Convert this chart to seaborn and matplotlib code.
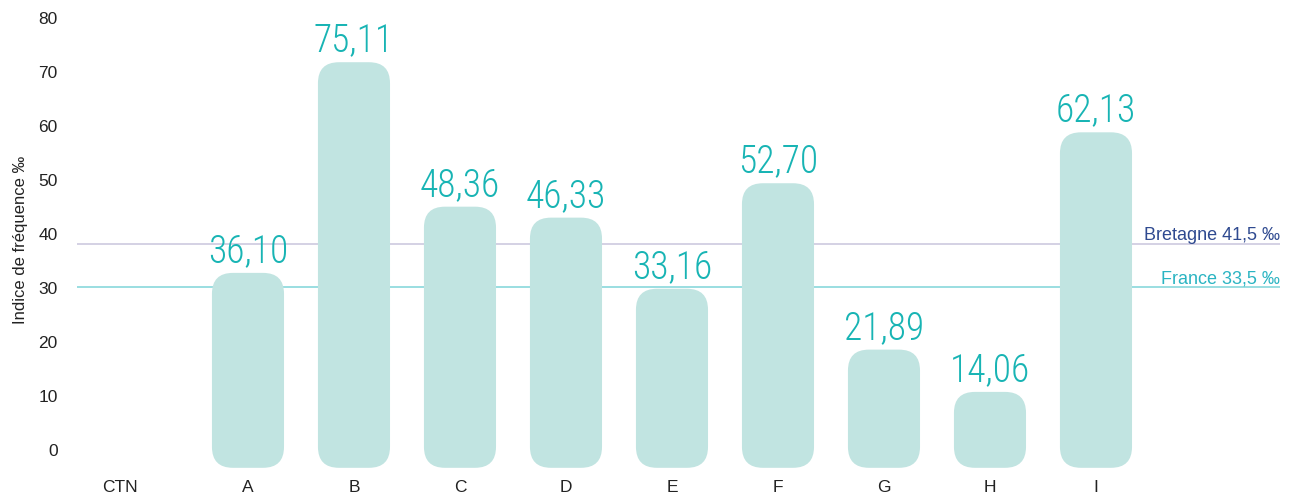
import numpy as np
import pandas as pd
import matplotlib
matplotlib.use("Agg")
import matplotlib.pyplot as plt
import seaborn as sns
from matplotlib.patches import FancyBboxPatch
from matplotlib.transforms import blended_transform_factory, ScaledTranslation

# data
categories = ["CTN", "A", "B", "C", "D", "E", "F", "G", "H", "I"]
values = [np.nan, 36.10, 75.11, 48.36, 46.33, 33.16, 52.70, 21.89, 14.06, 62.13]
labels = ["", "36,10", "75,11", "48,36", "46,33", "33,16", "52,70", "21,89", "14,06", "62,13"]
ref_names = ["Bretagne 41,5 ‰", "France 33,5 ‰"]
ref_values = [41.5, 33.5]

# bars and lines start a bit under the zero line in the original
offset = 3.3

bar_color = "#c1e4e1"
label_color = "#18b4b4"
ref_line_colors = ["#c9c5dd", "#7fd4d9"]
ref_text_colors = ["#2f4a90", "#2ab4c2"]

sns.set_theme(style="white")
plt.rcParams["font.family"] = ["Liberation Sans", "DejaVu Sans"]

df = pd.DataFrame({"cat": categories, "val": values})

fig = plt.figure(figsize=(12.97, 4.96), dpi=100)
ax = fig.add_axes([77 / 1297, 0.0492, (1280 - 77) / 1297, 0.9363])

sns.barplot(data=df, x="cat", y="val", order=categories, color=bar_color,
            width=0.68, bottom=-offset, errorbar=None, saturation=1, ax=ax)

ax.set_xlim(-0.613, 10.736)
ax.set_ylim(-4, 82)

# swap the square bars for rounded ones
fig.canvas.draw()
px_x = ax.transData.transform([(1, 0)])[0][0] - ax.transData.transform([(0, 0)])[0][0]
px_y = ax.transData.transform([(0, 1)])[0][1] - ax.transData.transform([(0, 0)])[0][1]
radius_px = 21
for p in list(ax.patches):
    x, y = p.get_x(), p.get_y()
    w, h = p.get_width(), p.get_height()
    p.remove()
    if np.isnan(h) or h == 0:
        continue
    box = FancyBboxPatch((x, y), w, h,
                         boxstyle=f"round,pad=0,rounding_size={radius_px / px_x}",
                         mutation_aspect=px_x / px_y,
                         facecolor=bar_color, edgecolor="none", zorder=2)
    ax.add_patch(box)

# value labels
for i, (v, lab) in enumerate(zip(values, labels)):
    if np.isnan(v):
        continue
    ax.text(i, v - offset + 2.0, lab, ha="center", va="baseline",
            fontsize=27, color=label_color, fontweight="light",
            family=["Roboto Condensed", "Roboto", "DejaVu Sans"], zorder=3)

# reference lines
trans = blended_transform_factory(ax.transAxes, ax.transData)
for name, rv, lc, tc in zip(ref_names, ref_values, ref_line_colors, ref_text_colors):
    ax.axhline(rv - offset, color=lc, lw=1.1, zorder=1)
    ax.text(1.0, rv - offset + 0.7, name, transform=trans, ha="right", va="baseline",
            fontsize=13, color=tc)

ax.set_yticks(range(0, 81, 10))
ax.tick_params(axis="both", length=0, labelsize=12.5, labelcolor="#222222")
ax.tick_params(axis="y", pad=14)
ax.tick_params(axis="x", pad=6)
ax.set_xlabel("")
ax.set_ylabel("Indice de fréquence ‰", fontsize=12, color="#222222", labelpad=7)
for s in ax.spines.values():
    s.set_visible(False)

# CTN label sits a little closer to the axis in the original
ctn = ax.get_xticklabels()[0]
ctn.set_transform(ctn.get_transform() + ScaledTranslation(-22 / 100, 0, fig.dpi_scale_trans))

fig.savefig("out.png", dpi=100)
